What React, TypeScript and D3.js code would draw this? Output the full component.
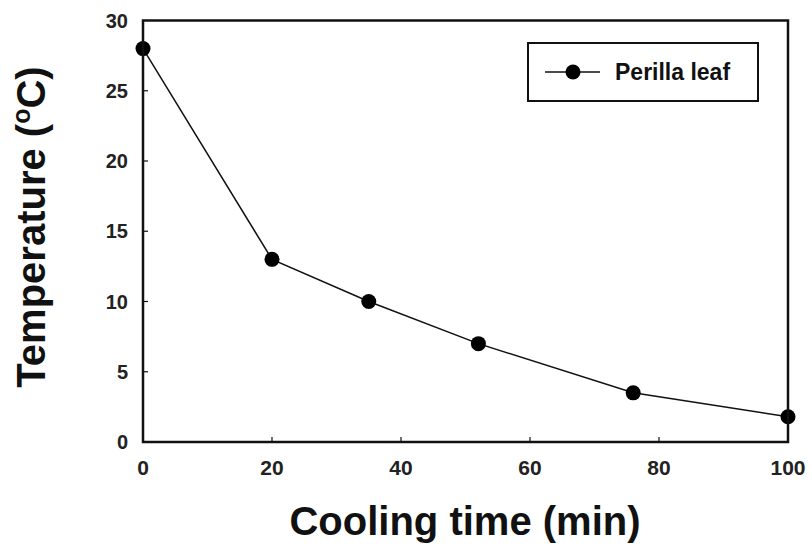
import React from "react";
import * as d3 from "d3";

const times = [0, 20, 35, 52, 76, 100];
const temps = [28, 13, 10, 7, 3.5, 1.8];
const xTicks = [0, 20, 40, 60, 80, 100];
const yTicks = [0, 5, 10, 15, 20, 25, 30];
const seriesName = "Perilla leaf";

export default function App() {
  const W = 812, H = 549;
  const L = 143, R = 788, T = 20.5, B = 442;
  const x = d3.scaleLinear().domain([0, 100]).range([L, R]);
  const y = d3.scaleLinear().domain([0, 30]).range([B, T]);
  const line = d3.line<number>().x((_, i) => x(times[i])).y((d) => y(d));
  const font = "'Liberation Sans', Arial, sans-serif";
  return (
    <svg width={W} height={H} style={{ position: "absolute", left: 0, top: 0, background: "#fff" }} fontFamily={font}>
      <path d={line(temps) || ""} fill="none" stroke="#111" strokeWidth={1.5} />
      {temps.map((t, i) => (
        <circle key={i} cx={x(times[i])} cy={y(t)} r={7.5} fill="#000" />
      ))}
      <rect x={L} y={T} width={R - L} height={B - T} fill="none" stroke="#111" strokeWidth={2.5} />
      {yTicks.map((v) => (
        <g key={"y" + v}>
          {v > 0 && v < 30 && <line x1={L} x2={L + 5} y1={y(v)} y2={y(v)} stroke="#111" strokeWidth={1.2} />}
          <text x={128} y={y(v)} dy="0.36em" textAnchor="end" fontSize={20} fontWeight="bold" fill="#222">{v}</text>
        </g>
      ))}
      {xTicks.map((v) => (
        <g key={"x" + v}>
          {v > 0 && v < 100 && <line x1={x(v)} x2={x(v)} y1={B} y2={B - 5} stroke="#111" strokeWidth={1.2} />}
          <text x={x(v)} y={475} textAnchor="middle" fontSize={21} fontWeight="bold" fill="#222">{v}</text>
        </g>
      ))}
      <text x={465} y={535} textAnchor="middle" fontSize={40} fontWeight="bold" fill="#111">Cooling time (min)</text>
      <text transform="translate(45,227) rotate(-90)" textAnchor="middle" fontSize={40} fontWeight="bold" fill="#111">
        Temperature (<tspan fontSize={25} dy={-15}>o</tspan><tspan dy={15}>C)</tspan>
      </text>
      <rect x={528} y={43} width={230} height={58} fill="#fff" stroke="#111" strokeWidth={2} />
      <line x1={545} x2={600} y1={72} y2={72} stroke="#111" strokeWidth={1.5} />
      <circle cx={573} cy={72} r={7.5} fill="#000" />
      <text x={615} y={80} fontSize={23} fontWeight="bold" fill="#111">{seriesName}</text>
    </svg>
  );
}
